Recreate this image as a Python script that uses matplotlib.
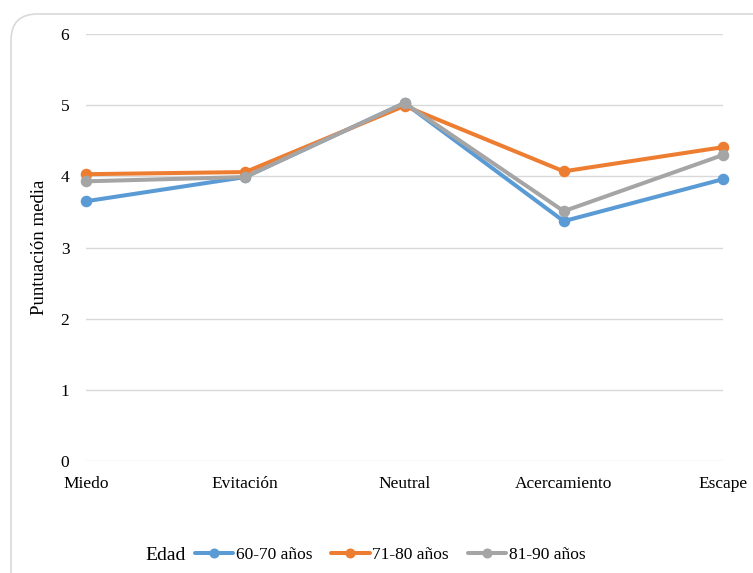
import matplotlib
matplotlib.use("Agg")
import matplotlib.pyplot as plt
from matplotlib.patches import FancyBboxPatch

plt.rcParams['font.family'] = ['Liberation Serif', 'DejaVu Serif']

# mean scores per category and age group
categorias = ["Miedo", "Evitación", "Neutral", "Acercamiento", "Escape"]
edad_60_70 = [3.65, 3.99, 5.03, 3.37, 3.96]
edad_71_80 = [4.03, 4.06, 4.99, 4.07, 4.41]
edad_81_90 = [3.93, 3.99, 5.03, 3.51, 4.30]
series_labels = ["60-70 años", "71-80 años", "81-90 años"]
colores = ["#5B9BD5", "#ED7D31", "#A5A5A5"]

fig = plt.figure(figsize=(7.53, 5.73), dpi=100)
ax = fig.add_axes([86 / 753, 1 - 461 / 573, 637 / 753, 427 / 573])

# rounded frame around the chart area (right and bottom edges run off the image)
frame = FancyBboxPatch((11 / 753, -0.1), 1.1, 1 - 14 / 573 + 0.1,
                       boxstyle="round,pad=0,rounding_size=0.035",
                       transform=fig.transFigure, facecolor="none",
                       edgecolor="#D9D9D9", linewidth=1.2, mutation_aspect=753 / 573)
fig.patches.append(frame)

x = list(range(len(categorias)))
for vals, lab, col in zip([edad_60_70, edad_71_80, edad_81_90], series_labels, colores):
    ax.plot(x, vals, color=col, lw=2.9, marker="o", ms=7.3, label=lab,
            solid_capstyle="round", clip_on=False)

ax.set_ylim(0, 6)
ax.set_xlim(0, 4)
ax.set_yticks(range(0, 7))
ax.set_xticks(x)
ax.set_xticklabels(categorias)
ax.grid(axis="y", color="#D9D9D9", lw=1)
ax.set_axisbelow(True)
for s in ax.spines.values():
    s.set_visible(False)
ax.tick_params(axis="both", length=0, labelsize=12.5)
ax.tick_params(axis="y", pad=12)
ax.tick_params(axis="x", pad=11)
ax.set_ylabel("Puntuación media", fontsize=13.5, labelpad=9)

fig.text(145 / 753, 1 - 556 / 573, "Edad", fontsize=14, va="center", ha="left")
fig.legend(loc="center left", bbox_to_anchor=(188 / 753, 1 - 555 / 573), ncol=3,
           frameon=False, fontsize=12.5, handlelength=2.2, handletextpad=0.15,
           columnspacing=1.1, borderaxespad=0, markerscale=0.85)

fig.savefig("out.png", dpi=100)
